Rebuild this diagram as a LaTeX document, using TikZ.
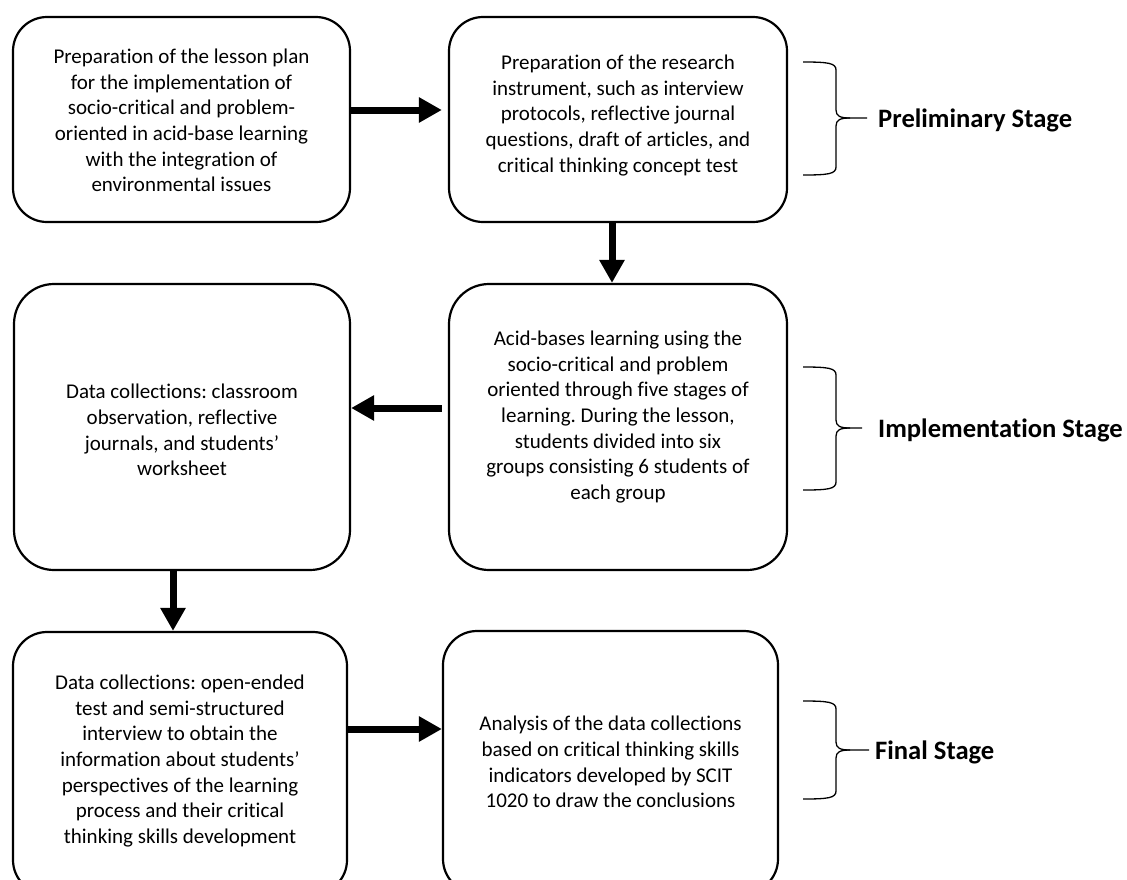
\documentclass[tikz,border=0pt]{standalone}
\usepackage{fontspec}
\setmainfont{Carlito}[Ligatures=NoCommon]
\usetikzlibrary{arrows.meta}
\tikzset{
  stagebox/.style={draw=black, line width=2.2pt, rounded corners=#1, inner sep=0pt},
  stagebox/.default=34pt,
  boxtext/.style={align=center, inner sep=0pt, font=\fontsize{21}{25.6}\selectfont},
  arr/.style={line width=7pt, -{Triangle[length=23pt,width=24pt]}},
  bracepath/.style={line width=1.3pt},
  stagelabel/.style={anchor=west, inner sep=0pt, font=\fontsize{26.6}{30}\selectfont\bfseries}
}
\frenchspacing
\begin{document}
\begin{tikzpicture}[x=1pt,y=-1pt]
\useasboundingbox (0,0) rectangle (1127,879);
\fill[white] (0,0) rectangle (1127,879);
% boxes
\node[stagebox, minimum width=337pt, minimum height=205pt] (A) at (181.5,119.5) {};
\node[stagebox, minimum width=338pt, minimum height=205pt] (B) at (618,119.5) {};
\node[stagebox=40pt, minimum width=336pt, minimum height=286pt] (C) at (182,427) {};
\node[stagebox=40pt, minimum width=338pt, minimum height=286pt] (D) at (618,427) {};
\node[stagebox, minimum width=334pt, minimum height=262pt] (E) at (180,763) {};
\node[stagebox, minimum width=335pt, minimum height=262pt] (F) at (610.5,762) {};
% texts
\node[boxtext] (At) at ([yshift=-1pt]A.center) {Preparation of the lesson plan\\for the implementation of\\socio-critical and problem-\\oriented in acid-base learning\\with the integration of\\environmental issues};
\node[boxtext] (Bt) at ([yshift=4pt]B.center) {Preparation of the research\\instrument, such as interview\\protocols, reflective journal\\questions, draft of articles, and\\critical thinking concept test};
\node[boxtext] (Ct) at ([yshift=-3pt]C.center) {Data collections: classroom\\observation, reflective\\journals, and students’\\worksheet};
\node[boxtext] (Dt) at ([yshift=10pt]D.center) {Acid-bases learning using the\\socio-critical and problem\\oriented through five stages of\\learning. During the lesson,\\students divided into six\\groups consisting 6 students of\\each group};
\node[boxtext] (Et) at ([yshift=2pt]E.center) {Data collections: open-ended\\test and semi-structured\\interview to obtain the\\information about students’\\perspectives of the learning\\process and their critical\\thinking skills development};
\node[boxtext] (Ft) at (F.center) {Analysis of the data collections\\based on critical thinking skills\\indicators developed by SCIT\\1020 to draw the conclusions};
% arrows
\draw[arr] ([yshift=9.5pt]A.east) -- ([yshift=9.5pt,xshift=-6pt]B.west);
\draw[arr] ([xshift=-6pt]B.south) -- ([xshift=-6pt]D.north);
\draw[arr] ([yshift=19pt,xshift=-6pt]D.west) -- ([yshift=19pt]C.east);
\draw[arr] ([xshift=-9pt]C.south) -- ([xshift=-7pt]E.north);
\draw[arr] ([yshift=34pt]E.east) -- ([yshift=33pt]F.west);
% braces
\draw[bracepath] (803,62) .. controls (828,62) and (836,63) .. (836,70) -- (836,110) .. controls (836,116) and (840,118) .. (850,118) -- (867,118);
\draw[bracepath] (803,175) .. controls (828,175) and (836,174) .. (836,167) -- (836,126) .. controls (836,120) and (840,118) .. (850,118);
\draw[bracepath] (803,367) .. controls (828,367) and (836,368) .. (836,375) -- (836,420) .. controls (836,426) and (840,428) .. (850,428) -- (862,428);
\draw[bracepath] (803,490) .. controls (828,490) and (836,489) .. (836,482) -- (836,436) .. controls (836,430) and (840,428) .. (850,428);
\draw[bracepath] (803,701) .. controls (828,701) and (836,702) .. (836,709) -- (836,742) .. controls (836,748) and (840,750) .. (850,750) -- (869,750);
\draw[bracepath] (803,799) .. controls (828,799) and (836,798) .. (836,791) -- (836,758) .. controls (836,752) and (840,750) .. (850,750);
% labels
\node[stagelabel] (L1) at (878,120) {Preliminary Stage};
\node[stagelabel] (L2) at (878,430) {Implementation Stage};
\node[stagelabel] (L3) at (875,752) {Final Stage};
\end{tikzpicture}
\end{document}
